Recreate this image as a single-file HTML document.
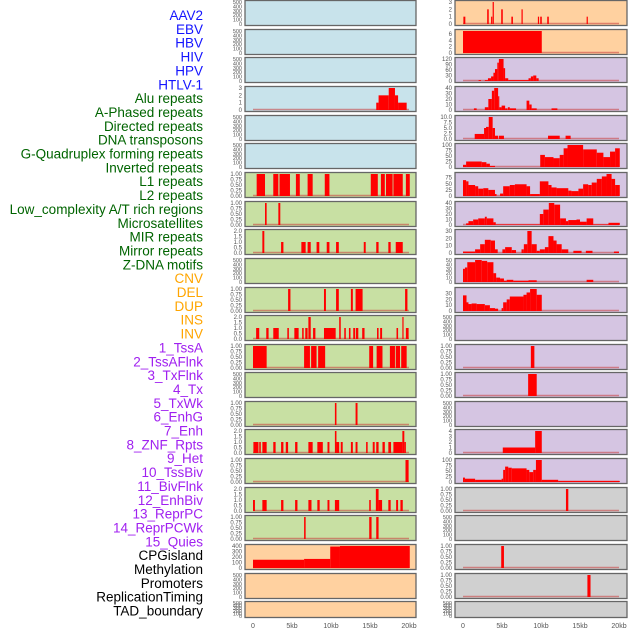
<!DOCTYPE html>
<html><head><meta charset="utf-8"><style>
html,body{margin:0;padding:0;background:#fff;width:630px;height:630px;overflow:hidden}
svg{display:block}
</style></head><body>
<svg id="chart" width="630" height="630"></svg>
<script>
// ---- data (kb start, kb end, value) ----
const labels = ["AAV2","EBV","HBV","HIV","HPV","HTLV-1","Alu repeats","A-Phased repeats","Directed repeats","DNA transposons","G-Quadruplex forming repeats","Inverted repeats","L1 repeats","L2 repeats","Low_complexity A/T rich regions","Microsatellites","MIR repeats","Mirror repeats","Z-DNA motifs","CNV","DEL","DUP","INS","INV","1_TssA","2_TssAFlnk","3_TxFlnk","4_Tx","5_TxWk","6_EnhG","7_Enh","8_ZNF_Rpts","9_Het","10_TssBiv","11_BivFlnk","12_EnhBiv","13_ReprPC","14_ReprPCWk","15_Quies","CPGisland","Methylation","Promoters","ReplicationTiming","TAD_boundary"];
const labelGroups = [6,13,5,15,4];
const leftAlu = [[15.8,16.1,1],[16.1,17.4,2],[17.4,18.2,3],[18.2,18.6,2],[18.6,19.7,1]];
const leftR6 = [[0.47,1.54,1],[2.6,3.25,1],[3.4,4.74,1],[5.5,6.0,1],[7.0,7.65,1],[9.2,9.8,1],[15.1,16.0,1],[16.4,16.9,1],[17.05,17.9,1],[18.0,19.2,1],[19.6,20.1,1]];
const leftR7 = [[1.54,1.75,1],[3.25,3.5,1]];
const leftR8 = [[1.2,1.45,2],[3.6,3.9,1],[6.2,6.75,1],[7.0,7.4,1],[8.15,8.5,1],[9.45,9.8,1],[10.65,11.0,1],[14.2,14.45,1],[15.8,16.1,1],[17.35,17.65,1],[18.3,19.2,1]];
const leftR10 = [[4.5,4.8,1],[9.1,9.35,1],[10.65,11.0,1],[12.55,12.8,1],[13.15,14.05,1],[19.5,19.8,1]];
const leftR11 = [[0.4,0.8,1],[1.7,2.0,1],[2.6,3.3,1],[4.4,4.6,1],[5.3,5.85,1],[6.3,6.5,1],[6.7,7.0,1],[7.1,7.4,2],[7.7,8.0,1],[9.1,10.6,1],[11.05,11.25,2],[11.7,11.9,1],[12.3,12.5,1],[12.85,13.1,1],[13.2,13.5,1],[14.0,14.3,1],[15.9,16.1,1],[16.3,16.55,1],[18.4,18.6,1],[19.15,19.3,2],[19.6,19.95,1]];
const leftR12 = [[0,1.75,1],[6.55,7.3,1],[7.45,8.15,1],[8.35,9.25,1],[14.9,15.4,1],[15.85,16.6,1],[17.55,18.2,1],[18.3,18.85,1],[19.0,19.7,1]];
const leftR14 = [[10.5,10.7,1],[13.15,13.4,1]];
const leftR15 = [[0.05,0.7,1],[0.8,1.0,1],[1.2,1.75,1],[2.6,2.9,1],[3.6,3.9,1],[4.2,4.5,1],[5.4,5.7,1],[7.1,7.65,1],[8.25,8.95,1],[9.55,9.8,1],[10.5,10.7,2],[10.7,11.05,1],[11.25,11.5,1],[12.55,12.8,1],[13.15,13.4,1],[14.5,14.7,1],[15.35,15.6,1],[15.8,16.1,1],[16.6,16.9,1],[17.35,17.7,1],[18.0,19.15,1],[19.15,19.4,2],[19.4,19.6,1]];
const leftR16 = [[19.55,19.95,1]];
const leftR17 = [[0,0.25,1],[1.2,1.75,1],[3.6,3.9,1],[5.4,5.7,1],[7.1,7.5,1],[8.25,8.55,1],[9.55,9.8,1],[10.5,11.05,1],[14.9,15.1,1],[15.75,16.1,2],[16.1,16.55,1],[17.35,17.65,1],[18.35,18.6,1],[18.9,19.2,1]];
const leftR18 = [[6.55,6.75,1],[14.9,15.2,1],[15.8,16.1,1]];
const leftCpg = [[0,6.55,150],[6.55,9.9,165],[9.9,11.15,390],[11.15,20.1,400]];
const rightR0 = [[0.05,0.3,1],[3.1,3.3,2],[3.6,3.75,1],[3.8,3.95,3],[4.9,5.1,2],[6.2,6.4,1],[7.5,7.65,2],[9.6,9.75,1],[9.9,10.1,1],[10.8,11.0,1],[15.85,16.0,1]];
const rightR1 = [[0,10.1,7]];
const rightR2 = [[2.0,2.3,5],[2.8,3.2,5],[3.2,3.6,15],[3.6,3.9,25],[3.9,4.1,45],[4.1,4.4,65],[4.4,4.6,100],[4.6,5.2,120],[5.2,5.4,70],[5.4,5.8,15],[5.8,8.4,5],[8.4,8.7,15],[8.7,9.0,25],[9.0,9.4,30],[9.4,9.7,15]];
const rightR3 = [[1.4,1.75,3],[2.8,3.25,5],[3.25,3.7,20],[3.7,4.0,35],[4.0,4.5,40],[4.5,4.65,25],[4.65,4.95,5],[4.95,5.4,8],[5.4,5.7,3],[5.75,6.0,5],[6.0,6.8,3],[8.15,8.5,17],[8.5,8.8,10],[8.8,9.45,3],[11.35,12.1,3]];
const rightR4 = [[1.5,2.7,2.3],[2.7,2.95,5],[2.95,3.3,5.5],[3.3,3.8,10],[3.8,4.1,5],[4.1,4.5,1.5],[4.6,5.25,1.5],[10.9,12.4,1.5],[13.15,13.8,1.5]];
const rightR5 = [[0,0.4,10],[0.4,2.4,25],[2.4,3.0,22],[3.0,3.45,15],[3.45,4.1,5],[9.9,10.5,55],[10.5,11.6,45],[11.6,12.4,40],[12.4,12.9,55],[12.9,13.4,85],[13.4,15.4,100],[15.4,17.15,80],[17.15,18.0,65],[18.0,18.85,45],[18.85,19.5,70],[19.5,20.1,85]];
const rightR6 = [[0,0.4,65],[0.4,0.7,60],[0.7,1.55,45],[1.55,1.95,40],[1.95,2.6,30],[2.6,3.25,32],[3.25,4.1,25],[4.1,4.3,8],[4.75,5.15,10],[5.15,6.0,40],[6.0,6.65,45],[6.65,8.15,48],[8.15,8.6,40],[8.6,9.85,8],[9.85,10.95,60],[10.95,11.35,45],[11.35,12.0,35],[12.0,13.5,32],[13.5,13.9,22],[13.9,14.8,20],[14.8,15.4,30],[15.4,16.05,48],[16.05,16.5,45],[16.5,17.15,55],[17.15,17.8,70],[17.8,18.4,80],[18.4,19.05,90],[19.05,19.5,70],[19.5,20.1,45]];
const rightR7 = [[0.4,0.7,3],[0.7,1.3,7],[1.3,1.95,10],[1.95,2.8,12],[2.8,3.05,15],[3.05,3.9,12],[3.9,4.2,5],[4.2,9.85,1],[9.85,10.3,20],[10.3,11.0,28],[11.0,11.7,40],[11.7,12.45,37],[12.45,13.2,12],[13.2,13.5,7],[13.5,14.55,9],[14.55,15.0,10],[15.0,15.85,6],[15.85,16.7,12],[16.7,18.65,1],[18.65,20.1,4]];
const rightR8 = [[0,1.55,2],[1.55,2.2,5],[2.2,2.8,12],[2.8,3.55,18],[3.55,4.1,17],[4.1,4.45,5],[5.05,5.4,5],[5.4,6.25,8],[6.25,6.8,4],[7.5,7.8,5],[7.8,8.25,12],[8.25,8.8,30],[8.8,9.45,12],[9.45,9.85,3],[9.85,10.5,5],[10.5,10.95,8],[10.95,11.6,23],[11.6,12.0,17],[12.0,12.65,12],[12.65,13.5,5],[14.15,15.2,3],[15.75,16.6,3],[19.35,20.0,2]];
const rightR9 = [[0,0.25,30],[0.25,0.55,33],[0.55,1.55,45],[1.55,2.4,50],[2.4,3.1,48],[3.1,3.9,45],[3.9,4.25,20],[4.25,4.75,10],[4.75,5.25,8],[5.25,5.6,3],[5.6,6.45,5],[6.45,8.4,3],[8.4,9.45,4],[15.85,16.7,5]];
const rightR10 = [[0,0.45,27],[0.45,0.7,15],[0.7,1.1,12],[1.1,1.75,13],[1.75,2.8,12],[2.8,3.45,10],[3.45,4.1,5],[4.1,4.5,4],[4.95,5.15,5],[5.15,5.6,15],[5.6,6.0,20],[6.0,7.75,25],[7.75,8.15,28],[8.15,8.6,32],[8.6,9.45,38],[9.45,10.1,28]];
const rightR12 = [[8.7,9.15,1]];
const rightR13 = [[8.35,9.45,1]];
const rightR15 = [[5.1,9.25,1],[9.25,10.1,4]];
const rightR16 = [[0,0.25,20],[0.25,1.55,15],[1.55,4.95,10],[4.95,5.15,15],[5.15,5.4,55],[5.4,5.8,70],[5.8,6.25,65],[6.25,8.15,62],[8.15,8.5,55],[8.5,9.0,45],[9.0,9.35,55],[9.35,10.1,100],[10.1,12.2,10],[12.2,20.1,5]];
const rightR17 = [[13.2,13.5,1]];
const rightR19 = [[4.9,5.25,1]];
const rightR20 = [[15.95,16.35,1]];
// tick sets
const T500=[0,100,200,300,400,500], T1=[0,0.25,0.5,0.75,1], T2=[0,0.5,1,1.5,2], T3=[0,1,2,3];
const xTicks=[0,5,10,15,20], xTickLabels=["0","5kb","10kb","15kb","20kb"];

const C={blue:"#c8e3eb",green:"#c8e0a3",orange:"#ffd1a0",purple:"#d5c5e2",gray:"#d0d0d0"};
const leftPanels=[
 [null,T500,C.blue],[null,T500,C.blue],[null,T500,C.blue],[leftAlu,T3,C.blue],[null,T500,C.blue],[null,T500,C.blue],
 [leftR6,T1,C.green],[leftR7,T1,C.green],[leftR8,T2,C.green],[null,T500,C.green],[leftR10,T1,C.green],[leftR11,T2,C.green],
 [leftR12,T1,C.green],[null,T500,C.green],[leftR14,T1,C.green],[leftR15,T2,C.green],[leftR16,T1,C.green],[leftR17,T2,C.green],
 [leftR18,T1,C.green],[leftCpg,[0,100,200,300,400],C.orange],[null,T500,C.orange],[null,T500,C.orange]];
const rightPanels=[
 [rightR0,T3,C.orange],[rightR1,[0,2,4,6],C.orange,7],[rightR2,[0,30,60,90,120],C.purple],[rightR3,[0,10,20,30,40],C.purple],
 [rightR4,[0,2.5,5,7.5,10],C.purple],[rightR5,[0,25,50,75,100],C.purple],[rightR6,[0,25,50,75],C.purple,90],
 [rightR7,[0,10,20,30,40],C.purple],[rightR8,[0,10,20,30],C.purple],[rightR9,[0,10,20,30,40,50],C.purple],
 [rightR10,[0,10,20,30],C.purple,38],[null,T500,C.purple],[rightR12,T1,C.purple],[rightR13,T1,C.purple],[null,T500,C.purple],
 [rightR15,[0,1,2,3,4],C.purple],[rightR16,[0,25,50,75,100],C.purple],[rightR17,T1,C.gray],[null,T500,C.gray],
 [rightR19,T1,C.gray],[rightR20,T1,C.gray],[null,T500,C.gray]];

const NS="http://www.w3.org/2000/svg";
const svg=document.getElementById('chart');
function mk(tag,attrs,parent){const e=document.createElementNS(NS,tag);for(const k in attrs)e.setAttribute(k,attrs[k]);(parent||svg).appendChild(e);return e;}
const tops=[0,29,57,86,115,143,172,201,229,258,287,315,344,372,401,429,458,487,515,544,573,601];
const KB=7.8;
function fmt(t,ticks){const dec=ticks.some(v=>Math.round(v*100)%100!==0&&Math.round(v*10)%10===0)?1:(ticks.some(v=>Math.round(v*100)%10!==0)?2:(ticks.some(v=>v%1!==0)?1:0));return t.toFixed(dec);}
function drawPanel(col,row,p){
  const [segs,ticks,bg,maxOverride]=p;
  const px=col===0?245:455, x0=col===0?253:463, w=col===0?171:172;
  const top=tops[row], h=row===21?16:25;
  const max=maxOverride||ticks[ticks.length-1];
  const xs=kb=>x0+kb*KB;
  const ys=v=>top+h-1-v/max*(h-3);
  const g=mk('g',{});
  
  
  mk('rect',{x:px,y:top+0.5,width:w,height:h,fill:bg,stroke:'#666','stroke-width':1.3},g);
  ticks.forEach(t=>{
    const tx=mk('text',{x:px-3,y:ys(t)+2,'font-size':ticks.length>5?5.5:6,fill:'#555','text-anchor':'end','font-family':'Liberation Sans, sans-serif'},g);
    tx.textContent=fmt(t,ticks);
    
    
  });
  if(segs){
    const bl=mk('line',{x1:xs(0),x2:xs(20),y1:ys(0)-0.5,y2:ys(0)-0.5,stroke:'rgba(200,60,60,0.55)','stroke-width':1.6},g);
    
    
    segs.forEach(s=>{
      const r=mk('rect',{x:xs(s[0]),y:ys(s[2]),width:Math.max(1.2,xs(s[1])-xs(s[0])),height:ys(0)-ys(s[2]),fill:'#ff0000'},g);
      
      
    });
  }
}
leftPanels.forEach((p,i)=>drawPanel(0,i,p));
rightPanels.forEach((p,i)=>drawPanel(1,i,p));
// x axes
[253,463].forEach((x0,ci)=>{
  xTicks.forEach((t,i)=>{
    const tx=mk('text',{x:x0+t*KB,y:628,'font-size':7,fill:'#555','text-anchor':'middle','font-family':'Liberation Sans, sans-serif'});
    tx.textContent=xTickLabels[i];
    
    
  });
});
// labels
const groupColors=["#1414ff","#006400","#ffa500","#a020f0","#000000"];
let gi=0,cnt=0;
labels.forEach((l,i)=>{
  while(cnt>=labelGroups[gi]){cnt=0;gi++;}
  cnt++;
  const tx=mk('text',{x:203,y:15+i*13.85+5,'font-size':13.5,fill:groupColors[gi],'text-anchor':'end','font-family':'Liberation Sans, sans-serif'});
  tx.textContent=l;
  
  
});
</script>
</body></html>
